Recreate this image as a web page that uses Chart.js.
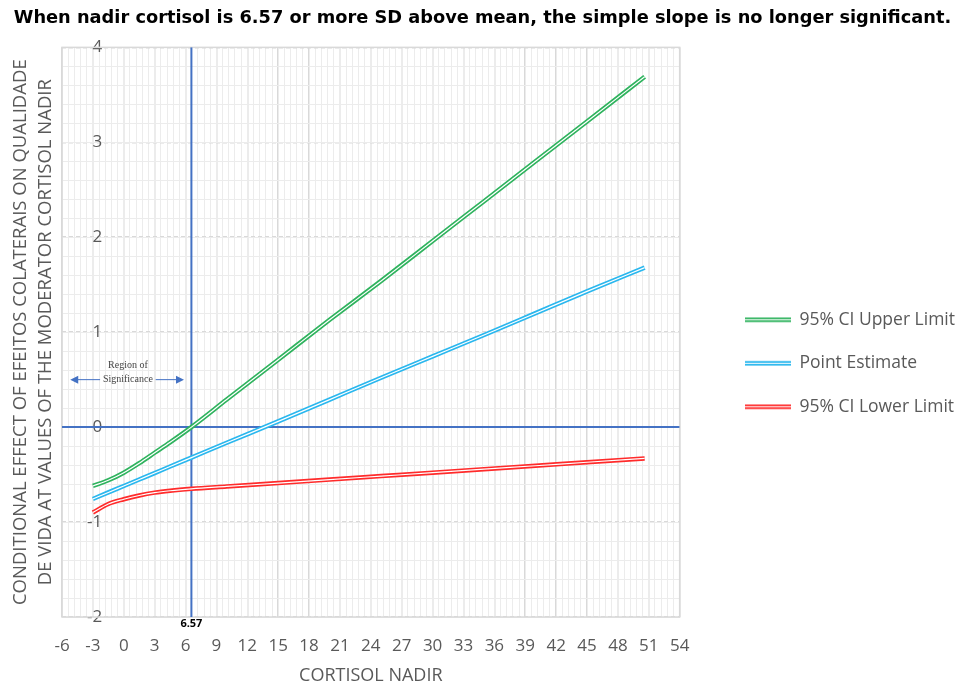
<!DOCTYPE html>
<html lang="en">
<head>
    <meta charset="UTF-8">
    <title>Conditional effect - Region of significance</title>
    <script src="https://cdn.jsdelivr.net/npm/chart.js"></script>
    <style>
        html, body { margin: 0; padding: 0; background: #fff; }
        #wrap { width: 965px; height: 687px; }
    </style>
</head>
<body>
    <div id="wrap"><canvas id="chart" width="965" height="687"></canvas></div>

    <script>
        // values
        const cortisol = [-3, -1.5, 0, 1.5, 3, 4.5, 6.57, 10, 15, 20, 25, 30, 35, 40, 45, 50.6];
        const upperLimit = [-0.62, -0.56, -0.48, -0.38, -0.27, -0.16, 0.0, 0.29, 0.71, 1.13, 1.54, 1.96, 2.38, 2.80, 3.22, 3.69];
        const pointEstimate = [-0.757, -0.688, -0.62, -0.552, -0.484, -0.415, -0.321, -0.165, 0.06, 0.29, 0.52, 0.745, 0.97, 1.20, 1.43, 1.68];
        const lowerLimit = [-0.90, -0.81, -0.76, -0.72, -0.69, -0.67, -0.65, -0.625, -0.589, -0.552, -0.516, -0.48, -0.443, -0.407, -0.37, -0.33];

        const seriesNames = ['95% CI Upper Limit', 'Point Estimate', '95% CI Lower Limit'];
        const seriesColors = ['#2fb35e', '#2ab7ee', '#ff2b2b'];
        const seriesValues = [upperLimit, pointEstimate, lowerLimit];

        const xTicks = { min: -6, max: 54, step: 3 };
        const yTicks = { min: -2, max: 4, step: 1 };
        const jnPoint = 6.57;

        const refBlue = '#4472c4';
        const fontFamily = "'Open Sans', 'Noto Sans', sans-serif";

        function toPoints(ys) {
            return cortisol.map((x, i) => ({ x, y: ys[i] }));
        }

        // small canvas used as the legend swatch (double line)
        function swatch(color) {
            const c = document.createElement('canvas');
            c.width = 46; c.height = 7;
            const g = c.getContext('2d');
            g.lineWidth = 4.5; g.strokeStyle = color;
            g.beginPath(); g.moveTo(0, 3.5); g.lineTo(46, 3.5); g.stroke();
            g.lineWidth = 1.2; g.strokeStyle = '#ffffff';
            g.beginPath(); g.moveTo(0, 3.5); g.lineTo(46, 3.5); g.stroke();
            return c;
        }

        const datasets = [];
        // white inner strokes first so they are drawn on top
        seriesValues.forEach((vals) => {
            datasets.push({
                label: '_inner',
                data: toPoints(vals),
                borderColor: '#ffffff',
                borderWidth: 1.2,
                pointRadius: 0,
                cubicInterpolationMode: 'monotone',
                fill: false
            });
        });
        seriesValues.forEach((vals, i) => {
            datasets.push({
                label: seriesNames[i],
                data: toPoints(vals),
                borderColor: seriesColors[i],
                backgroundColor: seriesColors[i],
                borderWidth: 4.5,
                pointRadius: 0,
                pointStyle: swatch(seriesColors[i]),
                cubicInterpolationMode: 'monotone',
                fill: false
            });
        });
        // reference lines: zero line and the Johnson-Neyman point
        datasets.push({
            label: '_ref',
            data: [{ x: xTicks.min, y: 0 }, { x: xTicks.max, y: 0 }],
            borderColor: refBlue, borderWidth: 2, pointRadius: 0
        });
        datasets.push({
            label: '_ref',
            data: [{ x: jnPoint, y: yTicks.min }, { x: jnPoint, y: yTicks.max }],
            borderColor: refBlue, borderWidth: 2, pointRadius: 0
        });

        const extras = {
            id: 'extras',
            beforeDatasetsDraw(chart) {
                const { ctx, chartArea: a } = chart;
                ctx.save();
                ctx.strokeStyle = '#d9d9d9';
                ctx.lineWidth = 1.5;
                ctx.strokeRect(a.left, a.top, a.right - a.left, a.bottom - a.top);
                ctx.restore();
            },
            afterDatasetsDraw(chart) {
                const { ctx, chartArea: a, scales: { x, y } } = chart;
                ctx.save();
                // J-N value under the plot
                ctx.fillStyle = '#000';
                ctx.font = "bold 11px " + fontFamily;
                ctx.textAlign = 'center';
                ctx.textBaseline = 'top';
                ctx.fillText(String(jnPoint), x.getPixelForValue(jnPoint), a.bottom + 1);

                // region of significance note
                const cx = x.getPixelForValue(0.4);
                ctx.fillStyle = '#444';
                ctx.font = "10px 'Liberation Serif', serif";
                ctx.textBaseline = 'middle';
                ctx.fillText('Region of', cx, y.getPixelForValue(0.655));
                ctx.fillText('Significance', cx, y.getPixelForValue(0.5));

                const ay = y.getPixelForValue(0.5);
                const l0 = x.getPixelForValue(-5.2), l1 = x.getPixelForValue(-2.3);
                const r0 = x.getPixelForValue(3.1), r1 = x.getPixelForValue(5.85);
                ctx.strokeStyle = refBlue;
                ctx.fillStyle = refBlue;
                ctx.lineWidth = 1;
                ctx.beginPath();
                ctx.moveTo(l0 + 6, ay); ctx.lineTo(l1, ay);
                ctx.moveTo(r0, ay); ctx.lineTo(r1 - 6, ay);
                ctx.stroke();
                ctx.beginPath();
                ctx.moveTo(l0, ay); ctx.lineTo(l0 + 8, ay - 4); ctx.lineTo(l0 + 8, ay + 4); ctx.closePath();
                ctx.moveTo(r1, ay); ctx.lineTo(r1 - 8, ay - 4); ctx.lineTo(r1 - 8, ay + 4); ctx.closePath();
                ctx.fill();
                ctx.restore();
            }
        };

        new Chart(document.getElementById('chart').getContext('2d'), {
            type: 'line',
            data: { datasets },
            plugins: [extras],
            options: {
                responsive: false,
                animation: false,
                layout: { padding: 0 },
                scales: {
                    x: {
                        type: 'linear',
                        min: xTicks.min, max: xTicks.max,
                        z: -1,
                        afterFit: (s) => { s.height = 70; },
                        ticks: {
                            stepSize: xTicks.step,
                            color: '#595959',
                            padding: 19,
                            autoSkip: false,
                            maxRotation: 0,
                            font: { family: fontFamily, size: 17 }
                        },
                        grid: { color: '#d9d9d9', lineWidth: 1.5, drawTicks: false },
                        border: { display: false },
                        title: {
                            display: true,
                            text: 'CORTISOL NADIR',
                            color: '#595959',
                            font: { family: fontFamily, size: 18 },
                            padding: { top: 0, bottom: 0 }
                        }
                    },
                    xMinor: {
                        type: 'linear',
                        position: 'bottom',
                        min: xTicks.min, max: xTicks.max,
                        z: -2,
                        afterFit: (s) => { s.height = 0; },
                        ticks: { stepSize: 0.6, display: false },
                        grid: { color: '#ececec', lineWidth: 1, drawTicks: false },
                        border: { display: false }
                    },
                    y: {
                        min: yTicks.min, max: yTicks.max,
                        z: -1,
                        afterFit: (s) => { s.width = 62; },
                        ticks: {
                            stepSize: yTicks.step,
                            mirror: true,
                            crossAlign: 'far',
                            padding: 25,
                            color: '#595959',
                            font: { family: fontFamily, size: 17 }
                        },
                        grid: { color: '#d9d9d9', lineWidth: 1.5, drawTicks: false },
                        border: { display: false, dash: [4, 3] },
                        title: {
                            display: true,
                            text: ['CONDITIONAL EFFECT OF EFEITOS COLATERAIS ON QUALIDADE',
                                   'DE VIDA AT VALUES OF THE MODERATOR CORTISOL NADIR'],
                            color: '#595959',
                            font: { family: fontFamily, size: 18.5, lineHeight: 1.35 },
                            padding: { top: 8, bottom: 0 }
                        }
                    },
                    yMinor: {
                        position: 'left',
                        min: yTicks.min, max: yTicks.max,
                        z: -2,
                        afterFit: (s) => { s.width = 0; },
                        ticks: { stepSize: 0.2, display: false },
                        grid: { color: '#ececec', lineWidth: 1, drawTicks: false },
                        border: { display: false }
                    },
                    // empty right axis: keeps the gap between plot and legend
                    yGap: {
                        position: 'right',
                        min: yTicks.min, max: yTicks.max,
                        afterFit: (s) => { s.width = 39; },
                        ticks: { display: false },
                        grid: { display: false },
                        border: { display: false }
                    }
                },
                plugins: {
                    title: {
                        display: true,
                        text: 'When nadir cortisol is 6.57 or more SD above mean, the simple slope is no longer significant.',
                        color: '#000',
                        font: { family: "'DejaVu Sans', sans-serif", size: 17.8, weight: 'bold' },
                        padding: { top: 8, bottom: 18 }
                    },
                    legend: {
                        position: 'right',
                        maxWidth: 400,
                        title: { display: true, text: ' ', font: { size: 33 } },
                        labels: {
                            filter: (item) => !item.text.startsWith('_'),
                            usePointStyle: true,
                            pointStyleWidth: 46,
                            padding: 26,
                            color: '#595959',
                            font: { family: fontFamily, size: 17.5 }
                        }
                    },
                    tooltip: { enabled: false }
                }
            }
        });
    </script>
</body>
</html>
